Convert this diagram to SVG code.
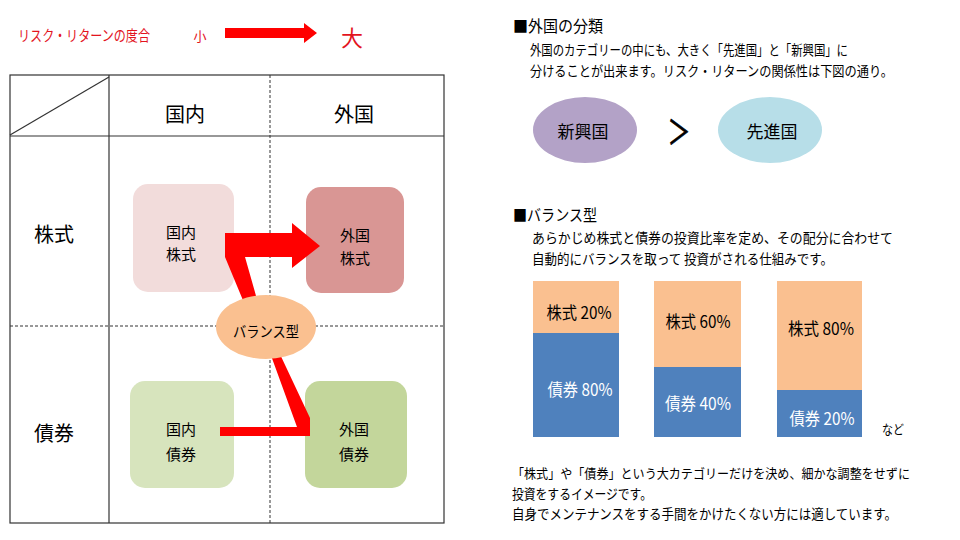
<svg xmlns="http://www.w3.org/2000/svg" width="960" height="540" viewBox="0 0 960 540">
<style>
text{font-family:"Noto Sans CJK JP","Noto Sans CJK SC",sans-serif;fill:#000;dominant-baseline:central}
.c{text-anchor:middle}
.red{fill:#E3141E}
.hd{font-size:20px}
.bx{font-size:15px}
.body{font-size:14px}
.bar{font-size:17px}
.wh{fill:#fff}
.tl{fill:none;stroke:#333;stroke-width:1.2}
.dl{fill:none;stroke:#333;stroke-width:1;stroke-dasharray:3 2}
.conn{fill:#FF0000}
</style>
<rect width="960" height="540" fill="#fff"/>

<g id="risk-scale">
<text class="red" x="18" y="34" font-size="15" textLength="132" lengthAdjust="spacingAndGlyphs">リスク・リターンの度合</text>
<text class="red c" x="200" y="35" font-size="13">小</text>
<polygon class="conn" points="225,28 304,28 304,23 317,33 304,43 304,38 225,38"/>
<text class="red c" x="352" y="36" font-size="22">大</text>
</g>

<g id="table">
<rect class="tl" x="10" y="75" width="434" height="448"/>
<line class="tl" x1="109" y1="75" x2="109" y2="523"/>
<line class="tl" x1="10" y1="136" x2="444" y2="136"/>
<line class="tl" x1="10" y1="135" x2="109" y2="77"/>
<line class="dl" x1="270" y1="75" x2="270" y2="523"/>
<line class="dl" x1="10" y1="326" x2="444" y2="326"/>
<text class="c hd" x="185" y="113">国内</text>
<text class="c hd" x="354" y="113">外国</text>
<text class="c hd" x="54" y="233">株式</text>
<text class="c hd" x="54" y="432">債券</text>
</g>

<g id="domestic-stock">
<rect x="133" y="184" width="101" height="108" rx="15" fill="#F2DCDB"/>
<text class="c bx" x="181" y="231">国内</text>
<text class="c bx" x="181" y="253">株式</text>
</g>
<g id="foreign-stock">
<rect x="306" y="187" width="98" height="106" rx="15" fill="#D99694"/>
<text class="c bx" x="355" y="234">外国</text>
<text class="c bx" x="355" y="257">株式</text>
</g>
<g id="domestic-bond">
<rect x="130" y="381" width="104" height="107" rx="15" fill="#D7E4BD"/>
<text class="c bx" x="181" y="428">国内</text>
<text class="c bx" x="181" y="453">債券</text>
</g>
<g id="foreign-bond">
<rect x="305" y="381" width="102" height="107" rx="15" fill="#C3D69B"/>
<text class="c bx" x="354" y="428">外国</text>
<text class="c bx" x="354" y="453">債券</text>
</g>

<g id="connectors">
<polygon class="conn" points="225,233 292,233 292,223 320,246 292,268 292,257 245,257 260,310 247,310 225,257"/>
<polygon class="conn" points="269,350 278,350 310,418 310,436 220,436 220,427 297,427"/>
</g>

<g id="balance">
<ellipse cx="266" cy="327" rx="50" ry="32" fill="#FAC090"/>
<text class="c" x="266" y="330" font-size="15" textLength="66" lengthAdjust="spacingAndGlyphs">バランス型</text>
</g>

<g id="foreign-classification">
<text x="513" y="25" font-size="16" textLength="90" lengthAdjust="spacingAndGlyphs">■外国の分類</text>
<text class="body" x="530" y="49" textLength="318" lengthAdjust="spacingAndGlyphs">外国のカテゴリーの中にも、大きく「先進国」と「新興国」に</text>
<text class="body" x="530" y="70" textLength="363" lengthAdjust="spacingAndGlyphs">分けることが出来ます。リスク・リターンの関係性は下図の通り。</text>
</g>
<g id="emerging">
<ellipse cx="585" cy="130" rx="52" ry="33" fill="#B3A2C7"/>
<text class="c" x="583" y="130" font-size="17">新興国</text>
</g>
<g id="gt">
<text class="c" x="0" y="0" font-size="30" stroke="#000" stroke-width="0.8" transform="translate(679,129) scale(0.75,1.1)">＞</text>
</g>
<g id="developed">
<ellipse cx="770" cy="130" rx="52" ry="33" fill="#B7DEE8"/>
<text class="c" x="772" y="130" font-size="17">先進国</text>
</g>

<g id="balance-desc">
<text x="513" y="214" font-size="16" textLength="84" lengthAdjust="spacingAndGlyphs">■バランス型</text>
<text class="body" x="532" y="237" textLength="361" lengthAdjust="spacingAndGlyphs">あらかじめ株式と債券の投資比率を定め、その配分に合わせて</text>
<text class="body" x="532" y="258" textLength="301" lengthAdjust="spacingAndGlyphs">自動的にバランスを取って 投資がされる仕組みです。</text>
</g>

<g id="bar1">
<rect x="533" y="281" width="86" height="52" fill="#FAC090"/>
<rect x="533" y="333" width="86" height="104" fill="#4F81BD"/>
<text class="c bar" x="579" y="311" textLength="65" lengthAdjust="spacingAndGlyphs">株式 20%</text>
<text class="c bar wh" x="580" y="388" textLength="65" lengthAdjust="spacingAndGlyphs">債券 80%</text>
</g>
<g id="bar2">
<rect x="654" y="281" width="87" height="86" fill="#FAC090"/>
<rect x="654" y="367" width="87" height="70" fill="#4F81BD"/>
<text class="c bar" x="698" y="320" textLength="65" lengthAdjust="spacingAndGlyphs">株式 60%</text>
<text class="c bar wh" x="698" y="402" textLength="66" lengthAdjust="spacingAndGlyphs">債券 40%</text>
</g>
<g id="bar3">
<rect x="777" y="281" width="85" height="109" fill="#FAC090"/>
<rect x="777" y="390" width="85" height="47" fill="#4F81BD"/>
<text class="c bar" x="821" y="327" textLength="66" lengthAdjust="spacingAndGlyphs">株式 80%</text>
<text class="c bar wh" x="822" y="417" textLength="65" lengthAdjust="spacingAndGlyphs">債券 20%</text>
</g>
<text x="882" y="428" font-size="13" textLength="22" lengthAdjust="spacingAndGlyphs">など</text>

<g id="summary">
<text x="512" y="472" font-size="13" textLength="398" lengthAdjust="spacingAndGlyphs">「株式」や「債券」という大カテゴリーだけを決め、細かな調整をせずに</text>
<text class="body" x="512" y="493" textLength="140" lengthAdjust="spacingAndGlyphs">投資をするイメージです。</text>
<text class="body" x="512" y="513" textLength="385" lengthAdjust="spacingAndGlyphs">自身でメンテナンスをする手間をかけたくない方には適しています。</text>
</g>
</svg>
